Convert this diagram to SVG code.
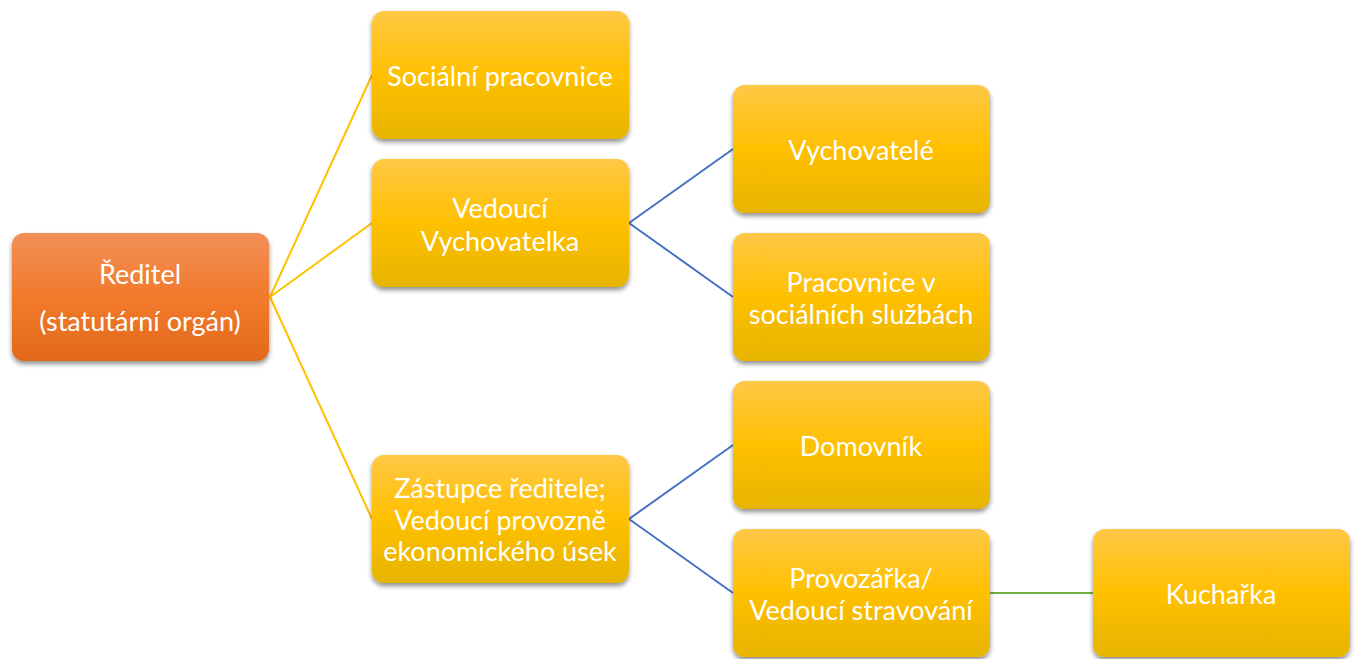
<svg xmlns="http://www.w3.org/2000/svg" width="1355" height="659" viewBox="0 0 1355 659">
<defs>
<linearGradient id="gO" x1="0" y1="0" x2="0" y2="1">
<stop offset="0" stop-color="#F29058"/>
<stop offset="0.5" stop-color="#F27A2C"/>
<stop offset="1" stop-color="#E2691A"/>
</linearGradient>
<linearGradient id="gY" x1="0" y1="0" x2="0" y2="1">
<stop offset="0" stop-color="#FFC846"/>
<stop offset="0.5" stop-color="#FFC000"/>
<stop offset="1" stop-color="#E6B400"/>
</linearGradient>
<filter id="sh" x="-10%" y="-10%" width="120%" height="130%">
<feGaussianBlur in="SourceAlpha" stdDeviation="2.5"/>
<feOffset dx="0" dy="3" result="b"/>
<feComponentTransfer><feFuncA type="linear" slope="0.45"/></feComponentTransfer>
<feMerge><feMergeNode/><feMergeNode in="SourceGraphic"/></feMerge>
</filter>
</defs>
<style>
.o{fill:url(#gO);filter:url(#sh)}
.y{fill:url(#gY);filter:url(#sh)}
text{font-family:Lato,"Open Sans","Liberation Sans",sans-serif;font-size:27px;fill:#fff;text-anchor:middle;dominant-baseline:central}
.c{fill:none;stroke-width:2}
</style>
<rect width="1355" height="659" fill="#fff"/>
<g id="connectors">
<path class="c" stroke="#FFC000" d="M270 297L372 75M270 297L372 223M270 297L372 519"/>
<path class="c" stroke="#4472C4" d="M629 223L733 149M629 223L733 297M629 519L733 445M629 519L733 593"/>
<path class="c" stroke="#70AD47" d="M990 593L1093 593"/>
</g>
<g id="reditel"><rect class="o" x="12" y="233" width="257" height="128" rx="12"/><text x="140" y="273">Ředitel</text><text x="140" y="320">(statutární orgán)</text></g>
<g id="socialni"><rect class="y" x="372" y="11" width="257" height="128" rx="12"/><text x="500" y="75">Sociální pracovnice</text></g>
<g id="vedouci-vych"><rect class="y" x="372" y="159" width="257" height="128" rx="12"/><text x="500" y="207">Vedoucí</text><text x="500" y="240">Vychovatelka</text></g>
<g id="zastupce"><rect class="y" x="372" y="455" width="257" height="128" rx="12"/><text x="500" y="487">Zástupce ředitele;</text><text x="500" y="519">Vedoucí provozně</text><text x="500" y="550">ekonomického úsek</text></g>
<g id="vychovatele"><rect class="y" x="733" y="85" width="257" height="128" rx="12"/><text x="861" y="149">Vychovatelé</text></g>
<g id="pracovnice"><rect class="y" x="733" y="233" width="257" height="128" rx="12"/><text x="861" y="281">Pracovnice v</text><text x="861" y="313">sociálních službách</text></g>
<g id="domovnik"><rect class="y" x="733" y="381" width="257" height="128" rx="12"/><text x="861" y="445">Domovník</text></g>
<g id="provozarka"><rect class="y" x="733" y="529" width="257" height="128" rx="12"/><text x="861" y="577">Provozářka/</text><text x="861" y="609">Vedoucí stravování</text></g>
<g id="kucharka"><rect class="y" x="1093" y="529" width="257" height="128" rx="12"/><text x="1221" y="593">Kuchařka</text></g>
</svg>
